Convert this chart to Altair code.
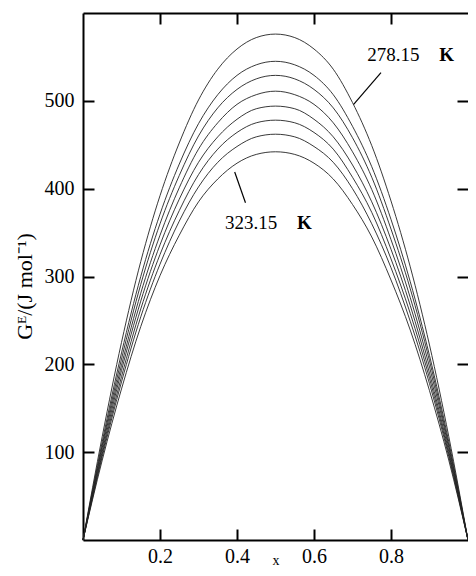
import altair as alt
import pandas as pd

# mole fraction grid at which curve values were read
x_vals = [0, 0.05, 0.1, 0.15, 0.2, 0.25, 0.3, 0.35, 0.4, 0.45, 0.5,
          0.55, 0.6, 0.65, 0.7, 0.75, 0.8, 0.85, 0.9, 0.95, 1.0]

temps = ["278.15", "288.15", "293.15", "298.15", "303.15", "308.15", "313.15", "323.15"]

g_278 = [0, 118, 225, 317, 392, 452, 501, 536, 559, 572, 576, 572, 559, 536, 498, 449, 386, 311, 222, 118, 0]
g_288 = [0, 112, 213, 300, 371, 428, 474, 507, 529, 541, 545, 541, 529, 507, 471, 425, 365, 294, 210, 112, 0]
g_293 = [0, 108, 206, 291, 360, 415, 460, 492, 513, 525, 529, 525, 513, 492, 458, 413, 354, 286, 204, 108, 0]
g_298 = [0, 105, 199, 281, 347, 401, 445, 475, 496, 507, 511, 507, 496, 475, 442, 399, 342, 276, 197, 105, 0]
g_303 = [0, 101, 193, 272, 336, 388, 430, 459, 479, 491, 494, 491, 479, 459, 427, 385, 331, 267, 190, 101, 0]
g_308 = [0, 98, 186, 263, 325, 375, 416, 445, 464, 475, 478, 475, 464, 445, 413, 373, 320, 258, 184, 98, 0]
g_313 = [0, 95, 180, 254, 314, 363, 402, 430, 448, 459, 462, 459, 448, 430, 400, 360, 310, 249, 178, 95, 0]
g_323 = [0, 91, 172, 243, 301, 347, 385, 411, 429, 439, 442, 439, 429, 411, 382, 345, 296, 239, 170, 91, 0]
series = [g_278, g_288, g_293, g_298, g_303, g_308, g_313, g_323]

x_ticks = [0.2, 0.4, 0.6, 0.8]
y_ticks = [100, 200, 300, 400, 500]

# annotations
label_num = ["278.15", "323.15"]
label_x = [0.738, 0.369]
label_y = [552, 361]
k_x = [0.925, 0.556]
lead_x1 = [0.774, 0.394]
lead_y1 = [532, 419]
lead_x2 = [0.703, 0.422]
lead_y2 = [496, 384]

rows = []
for t, vals in zip(temps, series):
    for xv, gv in zip(x_vals, vals):
        rows.append({"T": t, "x": xv, "g": gv})
df = pd.DataFrame(rows)

lab_df = pd.DataFrame({"num": label_num, "x": label_x, "y": label_y, "kx": k_x, "K": ["K", "K"]})
lead_df = pd.DataFrame({"x1": lead_x1, "y1": lead_y1, "x2": lead_x2, "y2": lead_y2})

W, H = 385, 527
FONT = "Liberation Serif"
xs = alt.Scale(domain=[0, 1], nice=False, zero=False)
ys = alt.Scale(domain=[0, 600], nice=False, zero=False)

tick_common = dict(labels=False, title=None, grid=False, ticks=True, tickSize=11,
                   tickWidth=2, tickColor="black")

lines = alt.Chart(df).mark_line(color="#222", strokeWidth=0.9, interpolate="monotone").encode(
    x=alt.X("x:Q", scale=xs, axis=alt.Axis(
        orient="bottom", values=x_ticks, format=".1f", ticks=False, tickSize=0,
        labelPadding=6, labelFont=FONT, labelFontSize=20, labelColor="black",
        domain=True, domainWidth=2, domainColor="black", grid=False,
        title="x", titleFont=FONT, titleFontSize=14, titleFontWeight="normal",
        titleColor="black", titlePadding=-13)),
    y=alt.Y("g:Q", scale=ys, axis=alt.Axis(
        orient="left", values=y_ticks, ticks=False, tickSize=0,
        labelPadding=9, labelFont=FONT, labelFontSize=20, labelColor="black",
        domain=True, domainWidth=2, domainColor="black", grid=False,
        title="Gᴱ/(J mol⁻¹)", titleFont=FONT, titleFontSize=22, titleFontWeight="normal",
        titleColor="black", titleAngle=270, titleX=-59, titleY=273,
        titleAlign="center", titleBaseline="middle")),
    detail="T:N",
)

leaders = alt.Chart(lead_df).mark_rule(color="black", strokeWidth=1.2).encode(
    x=alt.X("x1:Q", scale=xs, axis=alt.Axis(orient="bottom", offset=-H, values=x_ticks,
                                             domain=True, domainWidth=2, domainColor="black",
                                             **tick_common)),
    y=alt.Y("y1:Q", scale=ys, axis=alt.Axis(orient="right", offset=-W, values=y_ticks,
                                             domain=False, **tick_common)),
    x2="x2:Q",
    y2="y2:Q",
)

nums = alt.Chart(lab_df).mark_text(font=FONT, fontSize=19, align="left", baseline="middle",
                                   color="black").encode(
    x=alt.X("x:Q", scale=xs, axis=alt.Axis(orient="top", offset=-H, values=x_ticks,
                                            domain=False, **tick_common)),
    y=alt.Y("y:Q", scale=ys, axis=alt.Axis(orient="left", offset=-W, values=y_ticks,
                                            domain=False, **tick_common)),
    text="num:N",
)

ks = alt.Chart(lab_df).mark_text(font=FONT, fontSize=19, fontWeight="bold", align="left",
                                 baseline="middle", color="black").encode(
    x=alt.X("kx:Q", scale=xs, axis=None),
    y=alt.Y("y:Q", scale=ys, axis=None),
    text="K:N",
)

chart = alt.layer(lines, leaders, nums, ks).resolve_axis(
    x="independent", y="independent"
).properties(
    width=W, height=H,
    autosize=alt.AutoSizeParams(type="none"),
    padding={"left": 75, "top": 5, "right": 0, "bottom": 28},
    background="white",
).configure_view(stroke=None)

chart.save("out.html", embed_options={"renderer": "svg", "actions": False})
